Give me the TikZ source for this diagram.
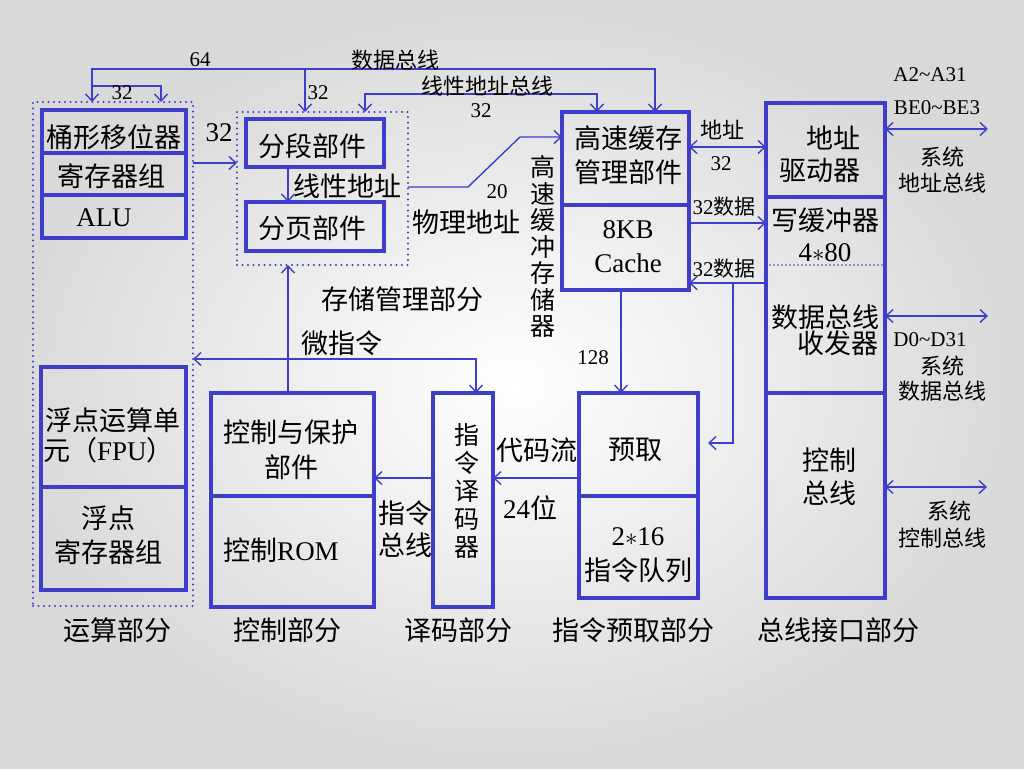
\documentclass[tikz,border=0pt]{standalone}
\usepackage{fontspec}
\setmainfont{Liberation Serif}
\newfontfamily\cjk{Noto Sans CJK SC}
\usetikzlibrary{arrows.meta}
\definecolor{bl}{RGB}{62,62,200}
\newcommand\szL{\fontsize{27}{31}\selectfont}
\newcommand\szV{\fontsize{25}{26.5}\selectfont}
\newcommand\szD{\fontsize{25}{28}\selectfont}
\newcommand\szM{\fontsize{22}{26}\selectfont}
\newcommand\szS{\fontsize{21}{24}\selectfont}
\begin{document}
\begin{tikzpicture}[x=1pt,y=-1pt,
  >={Straight Barb[length=7pt,width=13pt]},
  bx/.style={draw=bl, line width=3.1pt, inner sep=0pt, outer sep=0pt},
  dbx/.style={draw=bl, line width=2.3pt, dash pattern=on 0pt off 5.5pt, line cap=round, inner sep=0pt, outer sep=0pt},
  dln/.style={draw=bl, line width=1.6pt, dash pattern=on 0pt off 4pt, line cap=round},
  ln/.style={draw=bl, line width=1.4pt},
  ar/.style={ln, ->},
  dar/.style={ln, <->},
  tl/.style={inner sep=0pt, font=\szL\cjk},
  tm/.style={inner sep=0pt, font=\szM\cjk},
  ts/.style={inner sep=0pt, font=\szS},
  tlat/.style={inner sep=0pt, font=\szL}]
\useasboundingbox (0,0) rectangle (1024,768);
\shade[inner color=white, outer color=black!15] (0,0) rectangle (1024,768);

% dotted groups
\node[dbx, minimum width=160pt, minimum height=504pt] (alubox) at (113,354) {};
\node[dbx, minimum width=171pt, minimum height=153pt] (mmubox) at (322.5,188.5) {};

% boxes
\node[bx, minimum width=144pt, minimum height=43pt] (barrel) at (114,131.5) {};
\node[bx, minimum width=144pt, minimum height=42pt] (regs) at (114,174) {};
\node[bx, minimum width=144pt, minimum height=43pt] (alu) at (114,216.5) {};
\node[bx, minimum width=145pt, minimum height=120pt] (fpu) at (113.5,427) {};
\node[bx, minimum width=145pt, minimum height=103pt] (ffreg) at (113.5,538.5) {};
\node[bx, minimum width=138pt, minimum height=48pt] (seg) at (315,143) {};
\node[bx, minimum width=138pt, minimum height=49pt] (page) at (315,226.5) {};
\node[bx, minimum width=127pt, minimum height=93pt] (cachemgr) at (625.5,158.5) {};
\node[bx, minimum width=127pt, minimum height=85pt] (cache) at (625.5,247.5) {};
\node[bx, minimum width=119pt, minimum height=94pt] (busA) at (825.5,150) {};
\node[bx, minimum width=119pt, minimum height=196pt] (busB) at (825.5,295) {};
\node[bx, minimum width=119pt, minimum height=205pt] (busC) at (825.5,495.5) {};
\node[bx, minimum width=163pt, minimum height=103pt] (ctrl) at (292.5,444.5) {};
\node[bx, minimum width=163pt, minimum height=111pt] (rom) at (292.5,551.5) {};
\node[bx, minimum width=60pt, minimum height=214pt] (dec) at (463,500) {};
\node[bx, minimum width=119pt, minimum height=103pt] (pre) at (638.5,444.5) {};
\node[bx, minimum width=119pt, minimum height=102pt] (queue) at (638.5,547) {};

\coordinate (y265) at (0,265);
\draw[dln] (busB.west |- y265) -- (busB.east |- y265);

% texts inside boxes
\node[tl] (tbarrel) at (114,137) {桶形移位器};
\node[tl] (tregs) at (111,176) {寄存器组};
\node[tlat] (talu) at (104,218) {ALU};
\node[tl] (tfpu1) at (113,420) {浮点运算单};
\node[tlat, anchor=west] (tfpu2) at (43,450) {{\cjk 元（}FPU{\cjk ）}};
\node[tl] (tff1) at (108,518) {浮点};
\node[tl] (tff2) at (108,552) {寄存器组};
\node[tl] (tseg) at (312,146) {分段部件};
\node[tl] (tpage) at (312,228) {分页部件};
\node[tl] (tcm1) at (628,138) {高速缓存};
\node[tl] (tcm2) at (628,172) {管理部件};
\node[tlat] (tc1) at (628,230) {8KB};
\node[tlat] (tc2) at (628,263) {Cache};
\node[tl] (tba1) at (833,138) {地址};
\node[tl] (tba2) at (820,170) {驱动器};
\node[tl] (tbb1) at (825,220) {写缓冲器};
\node[tlat] (tbb2) at (825,253) {4$*$80};
\node[tl] (tbb3) at (825,317) {数据总线};
\node[tl] (tbb4) at (838,343) {收发器};
\node[tl] (tbc1) at (829,460) {控制};
\node[tl] (tbc2) at (829,493) {总线};
\node[tl] (tct1) at (291,432) {控制与保护};
\node[tl] (tct2) at (291,467) {部件};
\node[tlat] (trom) at (281,550) {{\cjk 控制}ROM};
\node[inner sep=0pt, font=\szD\cjk, align=center] (tdec) at (467,491) {指\\令\\译\\码\\器};
\node[tl] (tpre) at (635,450) {预取};
\node[tlat] (tq1) at (638,537) {2$*$16};
\node[tl] (tq2) at (638,570) {指令队列};

% connectors
\coordinate (dbL) at (92,69);
\coordinate (dbR) at (655,69);
\coordinate (dbM) at (305,69);
\coordinate (brA) at (92,86);
\coordinate (brB) at (161,86);
\draw[dar] (dbL |- alubox.north) -- (dbL) -- (dbR) -- (dbR |- cachemgr.north);
\draw[ar] (dbM) -- (dbM |- mmubox.north);
\draw[ar] (brA) -- (brB) -- (brB |- alubox.north);

\coordinate (lbL) at (365,94);
\coordinate (lbR) at (597,94);
\draw[dar] (lbL |- mmubox.north) -- (lbL) -- (lbR) -- (lbR |- cachemgr.north);

\coordinate (y163) at (0,163);
\draw[ar] (alubox.east |- y163) -- (mmubox.west |- y163);

\coordinate (x288) at (288,0);
\draw[ar] (seg.south -| x288) -- (page.north -| x288);

\coordinate (y187) at (0,187);
\coordinate (pa1) at (468,187);
\coordinate (pa2) at (520,137);
\coordinate (y137) at (0,137);
\draw[ar] (mmubox.east |- y187) -- (pa1) -- (pa2) -- (cachemgr.west |- y137);

\coordinate (y147) at (0,147);
\coordinate (y223) at (0,223);
\coordinate (y283) at (0,283);
\draw[dar] (cachemgr.east |- y147) -- (busA.west |- y147);
\draw[ar] (cache.east |- y223) -- (busB.west |- y223);
\draw[ar] (busB.west |- y283) -- (cache.east |- y283);
\coordinate (br1) at (733,283);
\coordinate (br2) at (733,443);
\draw[ar, shorten >=10pt] (br1) -- (br2) -- (pre.east |- br2);

\coordinate (x621) at (621,0);
\draw[ar] (cache.south -| x621) -- (pre.north -| x621);
\coordinate (y478) at (0,478);
\draw[ar] (pre.west |- y478) -- (dec.east |- y478);
\draw[ar] (dec.west |- y478) -- (ctrl.east |- y478);
\draw[ar] (ctrl.north -| x288) -- (mmubox.south -| x288);
\coordinate (mi) at (476,359);
\coordinate (y359) at (0,359);
\draw[dar] (alubox.east |- y359) -- (mi) -- (dec.north -| mi);

\coordinate (ra) at (988,129);
\coordinate (rd) at (988,316);
\coordinate (rc) at (987,487);
\draw[dar] (busA.east |- ra) -- (ra);
\draw[dar] (busB.east |- rd) -- (rd);
\draw[dar] (busC.east |- rc) -- (rc);

% labels
\node[ts] (l64) at (200,60) {64};
\node[tm] (ldb) at (395,60) {数据总线};
\node[ts] (l32a) at (122,93) {32};
\node[ts] (l32b) at (318,93) {32};
\node[tm] (llb) at (487,86) {线性地址总线};
\node[ts] (l32c) at (481,111) {32};
\node[tlat] (l32d) at (219,133) {32};
\node[tl] (llin) at (347,186) {线性地址};
\node[ts] (l20) at (497,192) {20};
\node[tl] (lphy) at (466,222) {物理地址};
\node[inner sep=0pt, font=\szV\cjk, align=center] (lcachev) at (543,246.5) {高\\速\\缓\\冲\\存\\储\\器};
\node[tm] (laddr) at (722,130) {地址};
\node[ts] (l32e) at (721,164) {32};
\node[ts] (ld1) at (724,207) {32{\cjk 数据}};
\node[ts] (ld2) at (724,269) {32{\cjk 数据}};
\node[tl] (lmmu) at (402,299) {存储管理部分};
\node[tl] (lmicro) at (342,343) {微指令};
\node[ts] (l128) at (593,358) {128};
\node[tl] (lcode) at (537,450) {代码流};
\node[tlat] (l24) at (530,508) {24{\cjk 位}};
\node[tl] (lib1) at (405,513) {指令};
\node[tl] (lib2) at (405,545) {总线};
\node[ts] (la1) at (930,75) {A2\textasciitilde A31};
\node[ts] (la2) at (937,108) {BE0\textasciitilde BE3};
\node[tm] (la3) at (942,157) {系统};
\node[tm] (la4) at (942,183) {地址总线};
\node[ts] (ld3) at (930,340) {D0\textasciitilde D31};
\node[tm] (ld4) at (942,366) {系统};
\node[tm] (ld5) at (942,391) {数据总线};
\node[tm] (lc1) at (949,511) {系统};
\node[tm] (lc2) at (942,538) {控制总线};
\node[tl] (g1) at (117,630) {运算部分};
\node[tl] (g2) at (287,630) {控制部分};
\node[tl] (g3) at (458,630) {译码部分};
\node[tl] (g4) at (633,630) {指令预取部分};
\node[tl] (g5) at (838,630) {总线接口部分};
\end{tikzpicture}
\end{document}
